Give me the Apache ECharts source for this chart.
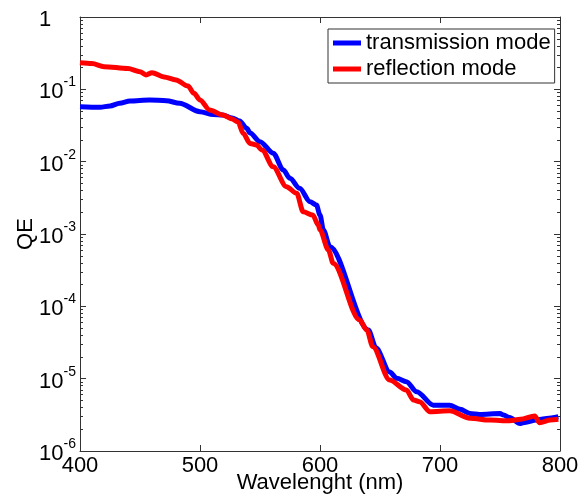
<!DOCTYPE html>
<html>
<head>
<meta charset="utf-8">
<script src="https://cdn.jsdelivr.net/npm/echarts@6/dist/echarts.min.js"></script>
<style>
  html, body { margin: 0; padding: 0; background: #fff; }
  #chart { width: 579px; height: 496px; }
</style>
</head>
<body>
<div id="chart"></div>
<script>
// wavelength (nm) / QE
var transWl = [400, 416.7, 425, 433, 441.7, 458, 472, 483, 500, 511, 519, 526.7, 533, 539, 541.7, 550, 561, 569.4, 575, 583, 591.7, 597, 600, 602.8, 608.3, 640.3, 646.7, 658, 664, 672, 680.6, 694.4, 700, 708, 716.7, 725, 733, 750, 753, 758, 766.7, 769.4, 780.6, 789, 798.6];
var transQE = [0.0575, 0.0565, 0.0589, 0.0641, 0.069, 0.0712, 0.0697, 0.0641, 0.0491, 0.0449, 0.0442, 0.0402, 0.0365, 0.0289, 0.0249, 0.0189, 0.0131, 0.00767, 0.00589, 0.00428, 0.00279, 0.00252, 0.00183, 0.00114, 6.67e-4, 4.71e-5, 2.65e-5, 1.24e-5, 1.01e-5, 9.1e-6, 6.6e-6, 4.3e-6, 4.3e-6, 4.3e-6, 3.77e-6, 3.3e-6, 3.2e-6, 3.3e-6, 3.14e-6, 2.9e-6, 2.4e-6, 2.46e-6, 2.68e-6, 2.82e-6, 2.98e-6];

var reflWl = [400, 410, 420, 440, 450, 455, 460, 470, 480, 490, 495, 500, 508, 519, 526.7, 531.7, 536, 541.7, 547, 551.7, 561, 572, 580.6, 586, 594, 598.6, 600, 607, 611, 633, 639, 644, 658, 672, 678, 683, 691.7, 708, 725, 741.7, 758, 767, 779, 783, 792, 798.6];
var reflQE = [0.233, 0.227, 0.206, 0.194, 0.175, 0.158, 0.170, 0.148, 0.135, 0.111, 0.088, 0.0713, 0.0518, 0.0442, 0.0389, 0.0353, 0.0247, 0.0179, 0.0170, 0.0145, 0.0085, 0.00451, 0.00365, 0.00203, 0.00183, 0.00133, 0.00114, 6.0e-4, 3.94e-4, 6.47e-5, 4.71e-5, 2.77e-5, 9.6e-6, 6.97e-6, 5.07e-6, 4.8e-6, 3.49e-6, 3.6e-6, 2.83e-6, 2.68e-6, 2.62e-6, 2.74e-6, 3.04e-6, 2.46e-6, 2.68e-6, 2.74e-6];

var xTicks = [400, 500, 600, 700, 800];
var seriesNames = ['transmission mode', 'reflection mode'];

function pairs(xs, ys) {
  return xs.map(function (x, i) { return [x, ys[i]]; });
}

var font = 'Liberation Sans, Arial, sans-serif';
var axisColor = '#333';

var myChart = echarts.init(document.getElementById('chart'));

function ticks() {
  return { show: true, inside: true, length: 6, lineStyle: { color: axisColor } };
}
function minorTicks() {
  // log axis minor ticks land on 2..9 x 10^n
  return { show: true, splitNumber: 9, length: 3, lineStyle: { color: axisColor } };
}

myChart.setOption({
  animation: false,
  grid: { left: 80, right: 19, top: 17, bottom: 45, outerBoundsMode: 'none' },
  legend: {
    orient: 'vertical',
    left: 328,
    top: 29,
    padding: [3, 4, 3, 5],
    itemGap: 4,
    itemWidth: 28,
    itemHeight: 5,
    icon: 'rect',
    borderColor: axisColor,
    borderWidth: 1,
    backgroundColor: '#fff',
    textStyle: { fontFamily: font, fontSize: 22, color: '#000', lineHeight: 22 },
    data: seriesNames
  },
  xAxis: [{
    type: 'value',
    min: xTicks[0],
    max: xTicks[xTicks.length - 1],
    interval: 100,
    name: 'Wavelenght (nm)',
    nameLocation: 'middle',
    nameGap: 21,
    nameMoveOverlap: false,
    nameTextStyle: { fontFamily: font, fontSize: 22, color: '#000' },
    axisLine: { onZero: false, lineStyle: { color: axisColor } },
    axisTick: ticks(),
    axisLabel: { fontFamily: font, fontSize: 22, color: '#000', margin: 4 },
    splitLine: { show: false }
  }, {
    type: 'value',
    position: 'top',
    min: xTicks[0],
    max: xTicks[xTicks.length - 1],
    interval: 100,
    axisLine: { show: true, onZero: false, lineStyle: { color: axisColor } },
    axisTick: ticks(),
    axisLabel: { show: false },
    splitLine: { show: false }
  }],
  yAxis: [{
    type: 'log',
    logBase: 10,
    min: 1e-6,
    max: 1,
    name: 'QE',
    nameLocation: 'middle',
    nameGap: 43,
    nameMoveOverlap: false,
    nameTextStyle: { fontFamily: font, fontSize: 22, color: '#000' },
    axisLine: { show: true, lineStyle: { color: axisColor } },
    axisTick: ticks(),
    minorTick: minorTicks(),
    axisLabel: {
      margin: 41,
      align: 'left',
      formatter: function (v) {
        var e = Math.round(Math.log10(v));
        if (e === 0) return '{b|1}';
        return '{b|10}{s|' + e + '}';
      },
      rich: {
        b: { fontFamily: font, fontSize: 22, color: '#000', lineHeight: 28, verticalAlign: 'bottom' },
        s: { fontFamily: font, fontSize: 14, color: '#000', lineHeight: 14, verticalAlign: 'top' }
      }
    },
    splitLine: { show: false }
  }, {
    type: 'log',
    logBase: 10,
    min: 1e-6,
    max: 1,
    position: 'right',
    axisLine: { show: true, lineStyle: { color: axisColor } },
    axisTick: ticks(),
    minorTick: minorTicks(),
    axisLabel: { show: false },
    splitLine: { show: false }
  }],
  series: [{
    name: seriesNames[0],
    type: 'line',
    data: pairs(transWl, transQE),
    symbol: 'none',
    smooth: 0.3,
    smoothMonotone: 'x',
    color: '#0000ff',
    lineStyle: { width: 5, color: '#0000ff' },
    z: 2
  }, {
    name: seriesNames[1],
    type: 'line',
    data: pairs(reflWl, reflQE),
    symbol: 'none',
    smooth: 0.3,
    smoothMonotone: 'x',
    color: '#ff0000',
    lineStyle: { width: 5, color: '#ff0000' },
    z: 3
  }]
});
</script>
</body>
</html>
